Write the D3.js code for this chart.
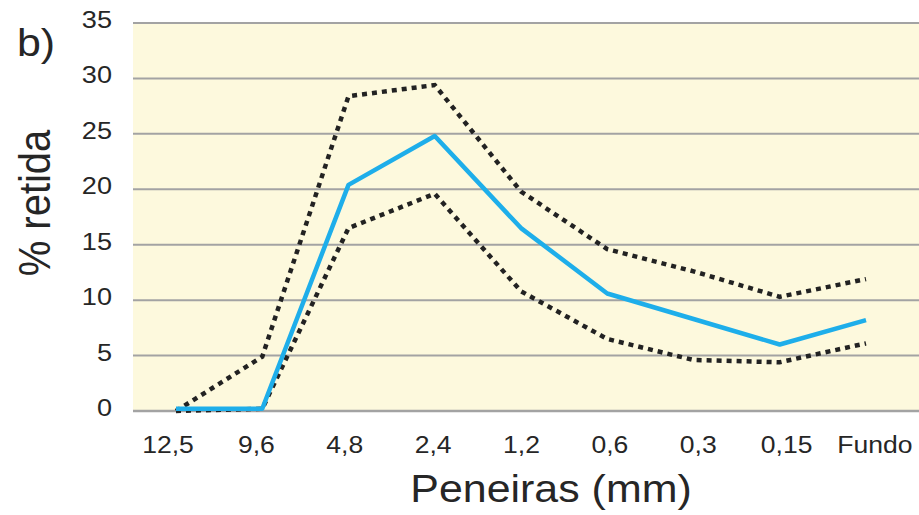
<!DOCTYPE html>
<html>
<head>
<meta charset="utf-8">
<script src="https://cdn.jsdelivr.net/npm/d3@7"></script>
<style>
  body { margin: 0; background: #fff; }
  text { font-family: "Liberation Sans", Arial, sans-serif; fill: #262626; }
</style>
</head>
<body>
<div class="chart"></div>
<script>
const sieves = ['12,5', '9,6', '4,8', '2,4', '1,2', '0,6', '0,3', '0,15', 'Fundo'];
const yTicks = [0, 5, 10, 15, 20, 25, 30, 35];

// % retida
const mean = [0.2, 0.2, 20.4, 24.8, 16.5, 10.6, 8.3, 6.0, 8.2];
const upper = [0, 4.9, 28.4, 29.4, 19.8, 14.6, 12.6, 10.3, 11.9];
const lower = [0, 0.2, 16.5, 19.6, 10.8, 6.5, 4.6, 4.4, 6.1];

document.addEventListener('DOMContentLoaded', () => {
  const width = 919;
  const height = 515;
  const plot = {left: 133, right: 919};
  const stretch = 1.13; // the original text is a bit wide

  const svg = d3.select('.chart').append('svg')
    .attr('width', width).attr('height', height);

  const x = d3.scalePoint().domain(sieves).range([176, 866]);
  // tick labels sit a little off the points in the original
  const xLabel = d3.scalePoint().domain(sieves).range([168, 875]);
  const y = d3.scaleLinear().domain([0, 35]).range([411, 23]);

  svg.append('rect')
    .attr('x', plot.left).attr('y', y(35))
    .attr('width', plot.right - plot.left).attr('height', y(0) - y(35))
    .attr('fill', '#fdf9dd');

  svg.append('g').selectAll('line').data(yTicks)
    .enter().append('line')
    .attr('x1', plot.left).attr('x2', plot.right)
    .attr('y1', d => y(d)).attr('y2', d => y(d))
    .attr('stroke', '#a3a3a3')
    .attr('stroke-width', d => d === 0 ? 2.5 : 2);

  svg.append('g').selectAll('text').data(yTicks)
    .enter().append('text')
    .attr('transform', d => `translate(112,${y(d) + 5}) scale(${stretch},1)`)
    .attr('text-anchor', 'end')
    .attr('font-size', 24)
    .text(d => d);

  svg.append('g').selectAll('text').data(sieves)
    .enter().append('text')
    .attr('transform', d => `translate(${xLabel(d)},453) scale(${stretch},1)`)
    .attr('text-anchor', 'middle')
    .attr('font-size', 23.5)
    .text(d => d);

  const line = d3.line()
    .x((d, i) => x(sieves[i]))
    .y(d => y(d));

  [upper, lower].forEach(s => {
    svg.append('path').datum(s)
      .attr('d', line)
      .attr('fill', 'none')
      .attr('stroke', '#222')
      .attr('stroke-width', 4.5)
      .attr('stroke-dasharray', '5,5');
  });

  svg.append('path').datum(mean)
    .attr('d', line)
    .attr('fill', 'none')
    .attr('stroke', '#1eaeea')
    .attr('stroke-width', 4.5)
    .attr('stroke-linejoin', 'round');

  svg.append('text')
    .attr('transform', `translate(551,502) scale(${stretch},1)`)
    .attr('text-anchor', 'middle')
    .attr('font-size', 38)
    .text('Peneiras (mm)');

  svg.append('text')
    .attr('transform', `translate(50,203) rotate(-90) scale(1,${stretch})`)
    .attr('text-anchor', 'middle')
    .attr('font-size', 40)
    .text('% retida');

  svg.append('text')
    .attr('transform', `translate(17,56) scale(${stretch},1)`)
    .attr('font-size', 38)
    .text('b)');
});
</script>
</body>
</html>
